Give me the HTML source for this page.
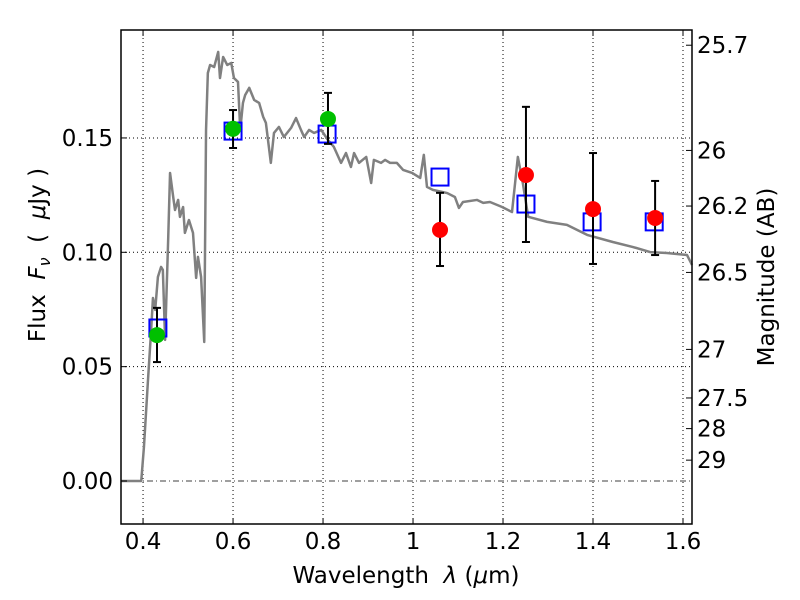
<!DOCTYPE html>
<html><head><meta charset="utf-8"><style>
body{margin:0;background:#fff;}
svg{display:block;font-family:"DejaVu Sans","Liberation Sans",sans-serif;}
.pre{white-space:pre;}
</style></head><body>
<svg id="c" width="800" height="600"></svg>
<script>
const specWave=[0.351,0.396,0.402,0.411,0.418,0.422,0.427,0.433,0.440,0.444,0.449,0.456,0.460,0.467,0.471,0.478,0.482,0.489,0.493,0.502,0.511,0.518,0.522,0.529,0.536,0.540,0.544,0.549,0.558,0.567,0.571,0.578,0.587,0.596,0.602,0.611,0.616,0.622,0.627,0.636,0.647,0.658,0.667,0.673,0.684,0.691,0.702,0.713,0.729,0.740,0.751,0.758,0.769,0.780,0.796,0.811,0.824,0.840,0.851,0.862,0.869,0.880,0.896,0.907,0.913,0.929,0.938,0.949,0.964,0.978,0.998,1.016,1.024,1.031,1.044,1.076,1.093,1.102,1.111,1.142,1.156,1.171,1.198,1.220,1.233,1.244,1.256,1.298,1.342,1.387,1.444,1.489,1.527,1.564,1.609,1.620];
const specFlux=[0,0,0.0149,0.0442,0.0660,0.0800,0.0748,0.0892,0.0936,0.0923,0.0617,0.1067,0.1347,0.1242,0.1185,0.1229,0.1155,0.1198,0.1085,0.1141,0.1085,0.0888,0.0980,0.0892,0.0608,0.1535,0.1784,0.1819,0.1810,0.1876,0.1762,0.1854,0.1819,0.1828,0.1762,0.1745,0.1535,0.1653,0.1688,0.1719,0.1666,0.1653,0.1592,0.1566,0.1391,0.1522,0.1548,0.1504,0.1544,0.1587,0.1535,0.1504,0.1535,0.1522,0.1535,0.1491,0.1461,0.1391,0.1434,0.1373,0.1434,0.1391,0.1417,0.1303,0.1404,0.1391,0.1404,0.1391,0.1391,0.1360,0.1347,0.1325,0.1426,0.1286,0.1273,0.1259,0.1242,0.1194,0.1220,0.1229,0.1216,0.1220,0.1198,0.1176,0.1417,0.1303,0.1155,0.1133,0.1120,0.1076,0.1045,0.1023,0.1001,0.0997,0.0988,0.0945];
const greenWave=[0.431,0.600,0.811];
const greenFlux=[0.0638,0.1540,0.1583];
const greenHi=[0.0757,0.1622,0.1697];
const greenLo=[0.0520,0.1456,0.1474];
const redWave=[1.060,1.251,1.400,1.538];
const redFlux=[0.1098,0.1338,0.1189,0.1150];
const redHi=[0.1260,0.1636,0.1434,0.1312];
const redLo=[0.0940,0.1045,0.0949,0.0988];
const modelWave=[0.433,0.600,0.809,1.060,1.251,1.398,1.536];
const modelFlux=[0.0669,0.1530,0.1517,0.1329,0.1211,0.1133,0.1133];
const xTicks=[0.4,0.6,0.8,1.0,1.2,1.4,1.6];
const xTickLabels=["0.4","0.6","0.8","1","1.2","1.4","1.6"];
const yTicks=[0,0.05,0.10,0.15];
const yTickLabels=["0.00","0.05","0.10","0.15"];
const magTicks=[25.7,26,26.2,26.5,27,27.5,28,29];
const magLabels=["25.7","26","26.2","26.5","27","27.5","28","29"];

const NS="http://www.w3.org/2000/svg",svg=document.getElementById('c');
const L=121,R=692,T=30,B=524,X0=0.351,X1=1.62,Y0=-0.0188,Y1=0.1972;
const sx=v=>L+(v-X0)/(X1-X0)*(R-L);
const sy=v=>B-(v-Y0)/(Y1-Y0)*(B-T);
const magToFlux=m=>Math.pow(10,(23.9-m)/2.5);
function mk(t,a,p){const e=document.createElementNS(NS,t);for(const k in a)e.setAttribute(k,a[k]);(p||svg).appendChild(e);return e;}

xTicks.forEach((v,i)=>{const g=mk('line',{x1:sx(v),x2:sx(v),y1:T,y2:B,stroke:'#000','stroke-width':1,'stroke-dasharray':'1,3'});

});
yTicks.forEach((v,i)=>{if(v===0)return;const g=mk('line',{x1:L,x2:R,y1:sy(v),y2:sy(v),stroke:'#000','stroke-width':1,'stroke-dasharray':'1,3'});

});
const zl=mk('line',{x1:L,x2:R,y1:sy(0),y2:sy(0),stroke:'#000','stroke-width':0.8,'stroke-dasharray':'6,3,1,3'});



const sp=mk('polyline',{points:specWave.map((w,i)=>sx(w)+','+sy(specFlux[i])).join(' '),fill:'none',stroke:'#808080','stroke-width':2.5,'stroke-linejoin':'round'});



function errbar(w,lo,hi,name){const g=mk('g',{stroke:'#000','stroke-width':2});


mk('line',{x1:sx(w),x2:sx(w),y1:sy(lo),y2:sy(hi)},g);
mk('line',{x1:sx(w)-4,x2:sx(w)+4,y1:sy(lo),y2:sy(lo)},g);
mk('line',{x1:sx(w)-4,x2:sx(w)+4,y1:sy(hi),y2:sy(hi)},g);}
modelWave.forEach((w,i)=>{const r=mk('rect',{x:sx(w)-8.5,y:sy(modelFlux[i])-8.5,width:17,height:17,fill:'none',stroke:'#0000ff','stroke-width':2});

});
greenWave.forEach((w,i)=>{errbar(w,greenLo[i],greenHi[i],'green-error-bar');
const c=mk('circle',{cx:sx(w),cy:sy(greenFlux[i]),r:8,fill:'#00c000'});

});
redWave.forEach((w,i)=>{errbar(w,redLo[i],redHi[i],'red-error-bar');
const c=mk('circle',{cx:sx(w),cy:sy(redFlux[i]),r:8,fill:'#ff0000'});

});

const fr=mk('rect',{x:L,y:T,width:R-L,height:B-T,fill:'none',stroke:'#000','stroke-width':1.5});



xTicks.forEach((v,i)=>{mk('line',{x1:sx(v),x2:sx(v),y1:B,y2:B-6,stroke:'#000'});mk('line',{x1:sx(v),x2:sx(v),y1:T,y2:T+6,stroke:'#000'});
const t=mk('text',{x:sx(v),y:B+25,'text-anchor':'middle','font-size':23});t.textContent=xTickLabels[i];

});
yTicks.forEach((v,i)=>{mk('line',{x1:L,x2:L+6,y1:sy(v),y2:sy(v),stroke:'#000'});
const t=mk('text',{x:L-8,y:sy(v)+8,'text-anchor':'end','font-size':23});t.textContent=yTickLabels[i];

});
magTicks.forEach((m,i)=>{const y=sy(magToFlux(m));mk('line',{x1:R,x2:R-6,y1:y,y2:y,stroke:'#000'});
const t=mk('text',{x:R+5,y:y+8,'font-size':23});t.textContent=magLabels[i];

});
</script>
<svg width="800" height="600" style="position:absolute;left:0;top:0;font-family:'DejaVu Sans','Liberation Sans',sans-serif">
<text class="pre" x="406" y="583" text-anchor="middle" font-size="23">Wavelength  <tspan font-style="italic">λ</tspan> (<tspan font-style="italic">μ</tspan>m)</text>
<text class="pre" transform="translate(45,255) rotate(-90)" text-anchor="middle" font-size="23">Flux  <tspan font-style="italic">F</tspan><tspan font-style="italic" font-size="16" dy="5">ν</tspan><tspan dy="-5">  (  </tspan><tspan font-style="italic">μ</tspan>Jy )</text>
<text transform="translate(774,277) rotate(-90)" text-anchor="middle" font-size="23">Magnitude (AB)</text>
</svg>
</body></html>
